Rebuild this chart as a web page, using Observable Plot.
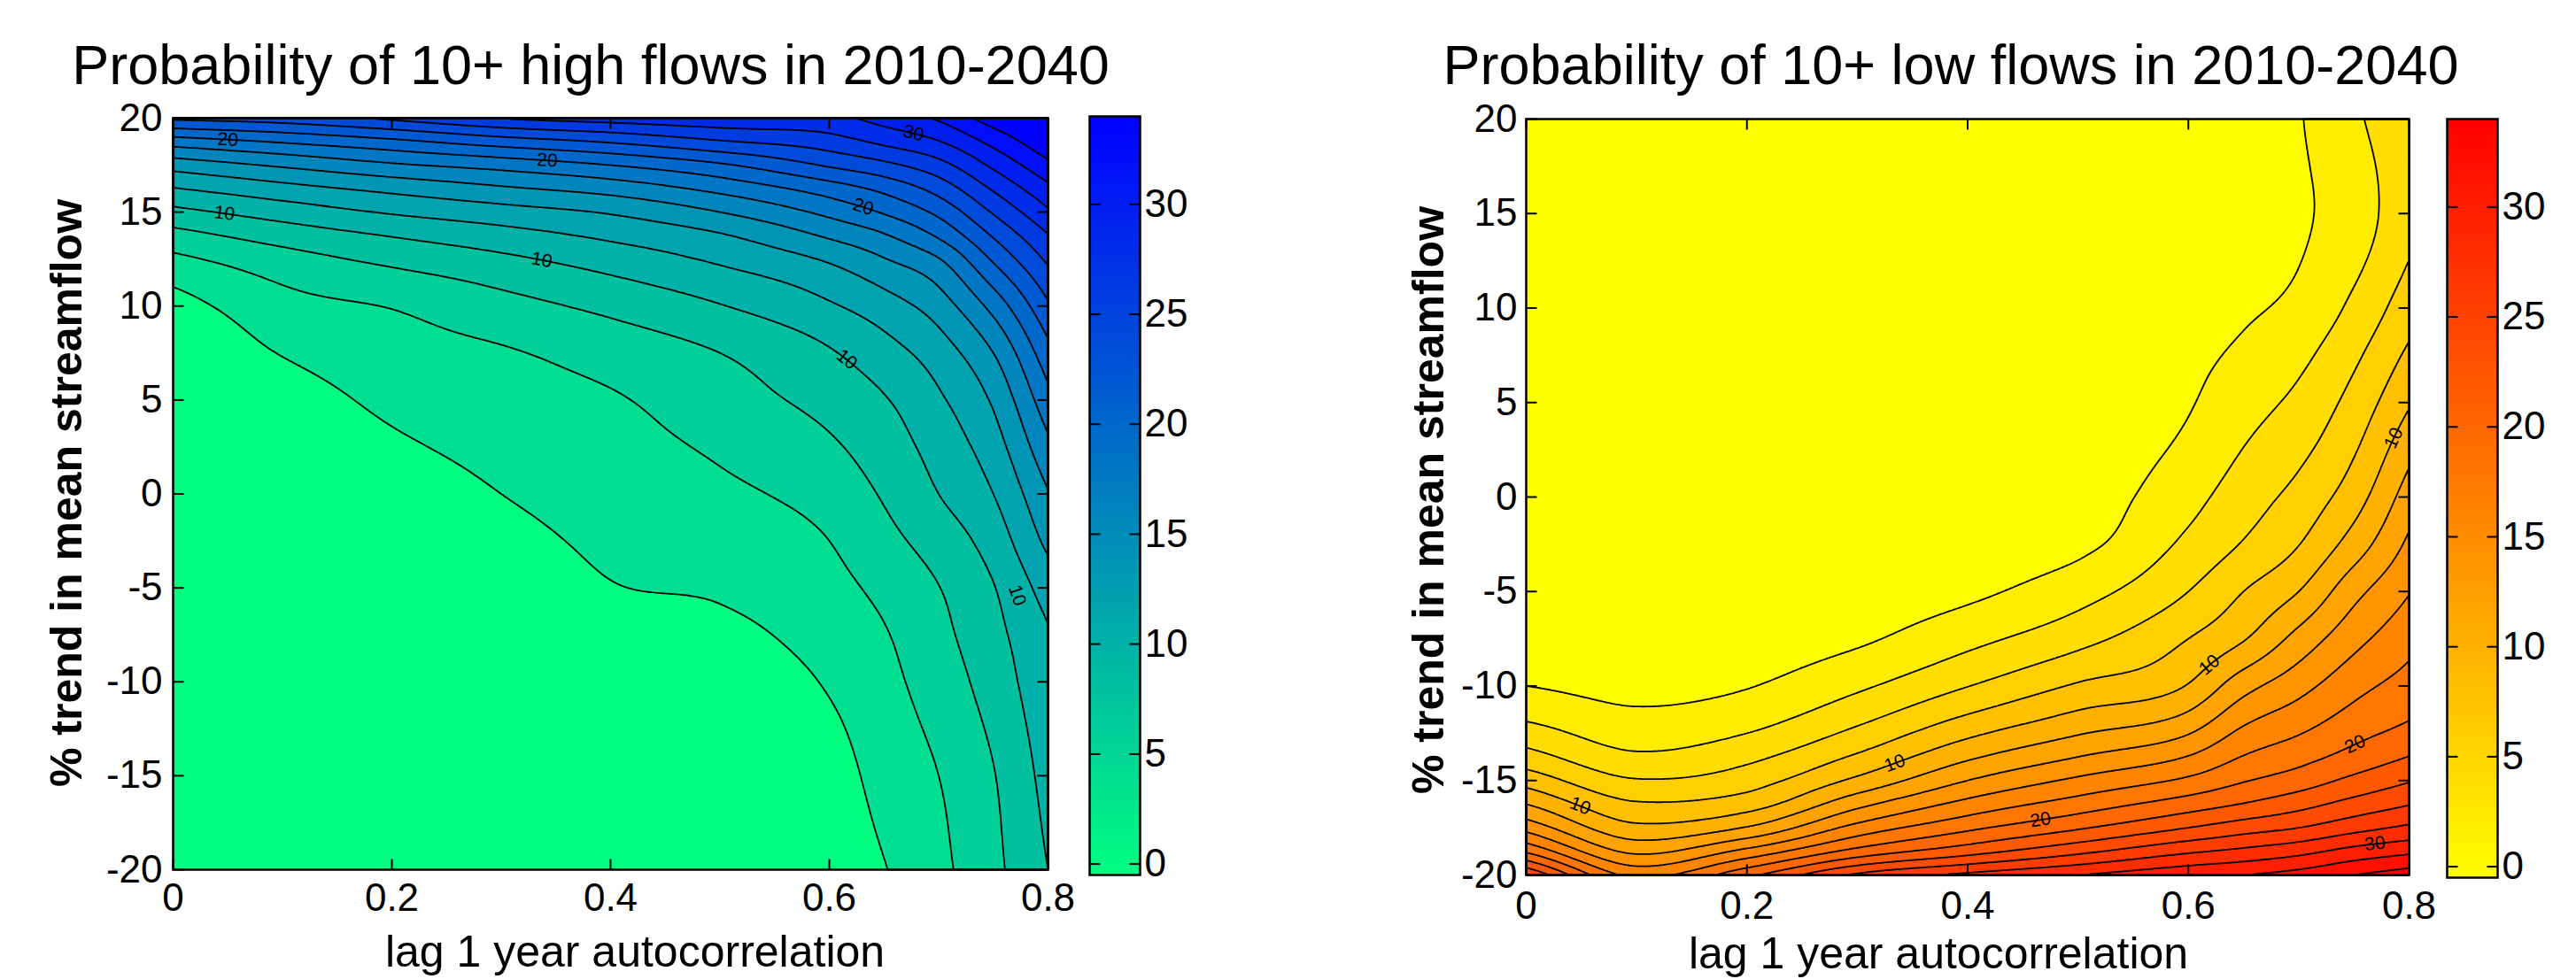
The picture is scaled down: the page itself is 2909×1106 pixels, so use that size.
<!DOCTYPE html>
<html>
<head>
<meta charset="utf-8">
<script src="https://cdn.jsdelivr.net/npm/d3@7"></script>
<script src="https://cdn.jsdelivr.net/npm/@observablehq/plot@0.6"></script>
<style>
  html, body { margin: 0; padding: 0; background: #ffffff; }
  #figure { position: relative; width: 2909px; height: 1106px; overflow: hidden; background: #ffffff; }
  #figure > .panel { position: absolute; top: 0; overflow: visible; }
  #figure svg { overflow: visible; }
</style>
</head>
<body>
<div id="figure"></div>
<script>
const FONT = '"Liberation Sans", Arial, Helvetica, sans-serif';

// ---- texts ----
const titleHigh = "Probability of 10+ high flows in 2010-2040";
const titleLow = "Probability of 10+ low flows in 2010-2040";
const xLabel = "lag 1 year autocorrelation";
const yLabel = "% trend in mean streamflow";

// ---- ticks & levels ----
const xTicks = [0, 0.2, 0.4, 0.6, 0.8];
const yTicks = [-20, -15, -10, -5, 0, 5, 10, 15, 20];
const colorbarTicks = [0, 5, 10, 15, 20, 25, 30];
const colorLimits = [-0.5, 34];
const highLevels = [4, 6, 8, 10, 12, 14, 16, 18, 20, 22, 24, 26, 28, 30, 32, 34];
const lowLevels = [2, 4, 6, 8, 10, 12, 14, 16, 18, 20, 22, 24, 26, 28, 30, 32, 34];

// ---- grid: lag-1 autocorrelation columns ----
const autocorrelation = [0, 0.1, 0.2, 0.3, 0.4, 0.5, 0.6, 0.65, 0.7, 0.75, 0.8];

// ---- high flows: probability (%) read per autocorrelation column, rows = trend ----
const highTrend = [20, 18.75, 17.5, 16.25, 15, 13.75, 12.5, 10, 7.5, 5, 2.5, 0, -2.5, -5, -7.5, -10, -15, -20];
const highAt000 = [24.4, 19.0, 14.86, 11.9, 9.45, 7.3, 5.56, 3.2, 2.0, 1.2, 0.7, 0.4, 0.2, 0.1, 0, 0, 0, 0];
const highAt010 = [25.0, 20.2, 16.3, 13.3, 10.9, 8.85, 7.2, 5.3, 4.1, 2.85, 1.8, 1.1, 0.6, 0.3, 0.15, 0.05, 0, 0];
const highAt020 = [26.4, 21.5, 17.7, 14.55, 12.2, 10.1, 8.5, 6.1, 5.25, 4.5, 3.6, 2.7, 1.9, 1.2, 0.7, 0.4, 0.1, 0];
const highAt030 = [28.1, 23.0, 18.75, 15.7, 13.2, 11.2, 9.6, 7.3, 5.8, 5.2, 4.6, 4.0, 3.3, 2.6, 1.9, 1.4, 0.7, 0.3];
const highAt040 = [28.9, 24.2, 20.0, 16.8, 14.2, 12.4, 10.9, 8.5, 6.8, 5.8, 5.3, 4.85, 4.4, 3.9, 3.1, 2.4, 1.3, 0.7];
const highAt050 = [29.5, 25.8, 21.7, 18.6, 16.0, 13.8, 12.35, 9.9, 8.0, 7.15, 6.3, 5.6, 4.9, 4.25, 3.5, 2.8, 1.8, 1.1];
const highAt060 = [29.6, 27.1, 24.25, 21.0, 18.55, 16.3, 14.3, 11.75, 9.8, 8.7, 7.7, 6.85, 6.0, 5.4, 4.8, 4.2, 3.1, 2.6];
const highAt065 = [30.8, 28.45, 25.5, 22.55, 20.2, 17.8, 15.9, 13.1, 11.2, 9.85, 9.0, 8.2, 7.4, 6.5, 5.85, 5.45, 4.7, 3.9];
const highAt070 = [32.3, 29.9, 27.3, 24.8, 22.5, 20.3, 17.9, 15.0, 13.0, 11.7, 10.8, 10.0, 8.9, 7.95, 7.45, 6.95, 6.0, 5.5];
const highAt075 = [35.0, 32.6, 30.4, 28.25, 26.2, 24.2, 22.3, 18.7, 16.0, 14.3, 13.1, 12.0, 10.9, 9.9, 9.4, 8.9, 7.9, 7.5];
const highAt080 = [37.0, 35.5, 33.5, 31.5, 29.7, 27.9, 26.4, 23.7, 21.3, 19.3, 17.5, 15.85, 14.5, 12.9, 11.8, 11.45, 10.7, 10.0];

// ---- low flows ----
const lowTrend = [20, 15, 10, 7.5, 5, 2.5, 0, -2.5, -5, -7.5, -10, -12.5, -13.75, -15, -16.25, -17.5, -18.75, -20];
const lowAt000 = [0, 0, 0, 0.03, 0.1, 0.2, 0.3, 0.5, 0.8, 1.3, 2.0, 4.86, 6.8, 9.2, 12.0, 15.3, 19.75, 26];
const lowAt010 = [0.05, 0.05, 0.05, 0.07, 0.1, 0.15, 0.2, 0.35, 0.6, 0.9, 1.45, 3.05, 4.35, 6.15, 8.25, 10.5, 13.6, 17.5];
const lowAt020 = [0.1, 0.1, 0.1, 0.12, 0.15, 0.2, 0.3, 0.45, 0.7, 1.05, 1.9, 4.0, 5.5, 7.1, 9.1, 12.15, 16.6, 21.5];
const lowAt030 = [0.2, 0.2, 0.2, 0.22, 0.25, 0.35, 0.45, 0.65, 0.95, 1.7, 3.65, 6.5, 8.3, 10.45, 13.4, 16.7, 20.7, 26.4];
const lowAt040 = [0.35, 0.35, 0.35, 0.4, 0.45, 0.55, 0.7, 1.0, 1.6, 3.4, 5.95, 9.55, 11.65, 14.0, 16.65, 19.55, 23.2, 28.5];
const lowAt050 = [0.6, 0.6, 0.7, 0.78, 0.85, 0.95, 1.1, 1.55, 3.2, 5.35, 8.25, 11.85, 14.0, 16.4, 18.9, 21.75, 25.5, 30];
const lowAt060 = [1.1, 1.05, 1.3, 1.55, 1.85, 2.45, 3.35, 4.45, 6.0, 8.0, 10.15, 13.9, 16.1, 18.4, 21.0, 24.0, 27.7, 31.5];
const lowAt065 = [1.5, 1.4, 1.75, 2.35, 3.2, 4.05, 5.05, 6.15, 8.0, 9.85, 13.25, 16.5, 18.1, 19.85, 22.1, 25.1, 28.5, 32];
const lowAt070 = [1.9, 1.75, 2.5, 3.5, 4.5, 5.5, 6.67, 7.95, 10.0, 12.7, 15.3, 17.9, 19.3, 21.0, 23.3, 26.0, 29.4, 32.8];
const lowAt075 = [3.7, 3.0, 4.45, 5.6, 6.7, 7.8, 9.1, 10.9, 13.35, 15.35, 17.35, 19.4, 20.7, 22.5, 24.7, 27.3, 30.7, 34];
const lowAt080 = [5.2, 5.4, 7.1, 8.4, 9.8, 11.4, 12.95, 14.4, 15.9, 17.35, 18.8, 20.6, 22.05, 23.85, 25.9, 28.4, 31.6, 35];

// ---- inline contour labels (x, trend, level) ----
const highLabels = [
  {x: 0.05, y: 19.3, text: "20"}, {x: 0.047, y: 15.1, text: "10"},
  {x: 0.342, y: 17.9, text: "20"}, {x: 0.337, y: 12.5, text: "10"},
  {x: 0.631, y: 15.2, text: "20"}, {x: 0.616, y: 7.5, text: "10"},
  {x: 0.677, y: 19.4, text: "30"}, {x: 0.772, y: -5.4, text: "10"}
];
const lowLabels = [
  {x: 0.049, y: -16.4, text: "10"}, {x: 0.334, y: -13.9, text: "10"},
  {x: 0.619, y: -9.4, text: "10"}, {x: 0.786, y: 3.7, text: "10"},
  {x: 0.466, y: -17.1, text: "20"}, {x: 0.751, y: -13.4, text: "20"},
  {x: 0.769, y: -18.3, text: "30"}
];

// ---- smooth C1 cubic (non-uniform, softly limited), used to render the read grid ----
function smoothCubic(xs, ys) {
  const n = xs.length, h = [], s = [], m = [];
  for (let i = 0; i < n - 1; i++) { h[i] = xs[i + 1] - xs[i]; s[i] = (ys[i + 1] - ys[i]) / h[i]; }
  m[0] = s[0]; m[n - 1] = s[n - 2];
  for (let i = 1; i < n - 1; i++) {
    const p = (s[i - 1] * h[i] + s[i] * h[i - 1]) / (h[i - 1] + h[i]);
    if (s[i - 1] * s[i] <= 0) m[i] = 0.5 * p;
    else m[i] = Math.sign(p) * Math.min(Math.abs(p), 2.5 * Math.min(Math.abs(s[i - 1]), Math.abs(s[i])));
  }
  return (x) => {
    let lo = 0, hi = n - 1;
    if (x <= xs[0]) lo = 0; else if (x >= xs[n - 1]) lo = n - 2;
    else { while (hi - lo > 1) { const mid = (lo + hi) >> 1; if (xs[mid] <= x) lo = mid; else hi = mid; } }
    const t = Math.max(0, Math.min(1, (x - xs[lo]) / h[lo]));
    const t2 = t * t, t3 = t2 * t;
    return (2 * t3 - 3 * t2 + 1) * ys[lo] + (t3 - 2 * t2 + t) * h[lo] * m[lo]
         + (-2 * t3 + 3 * t2) * ys[lo + 1] + (t3 - t2) * h[lo] * m[lo + 1];
  };
}
function makeField(xs, rowsDesc, cols) {
  const rows = rowsDesc.slice().reverse();
  const colFns = cols.map(c => smoothCubic(rows, c.slice().reverse()));
  let lastY = NaN, rowFn = null;
  return (x, y) => {
    if (y !== lastY) { lastY = y; rowFn = smoothCubic(xs, colFns.map(f => f(y))); }
    return rowFn(x);
  };
}

const highField = makeField(autocorrelation, highTrend,
  [highAt000, highAt010, highAt020, highAt030, highAt040, highAt050, highAt060, highAt065, highAt070, highAt075, highAt080]);
const lowField = makeField(autocorrelation, lowTrend,
  [lowAt000, lowAt010, lowAt020, lowAt030, lowAt040, lowAt050, lowAt060, lowAt065, lowAt070, lowAt075, lowAt080]);

// ---- tick glyphs (inward ticks like MATLAB) ----
const TL = 12;
const tickUp = {draw(c) { c.moveTo(0, 0); c.lineTo(0, -TL); }};
const tickDown = {draw(c) { c.moveTo(0, 0); c.lineTo(0, TL); }};
const tickRight = {draw(c) { c.moveTo(0, 0); c.lineTo(TL, 0); }};
const tickLeft = {draw(c) { c.moveTo(0, 0); c.lineTo(-TL, 0); }};
const tickStyle = {stroke: "black", fill: "none", strokeWidth: 2};

const fmt = d => String(d);
const FIG_H = 1106;
const panelStyle = {fontFamily: FONT, fontSize: "44px", color: "black", background: "transparent", maxWidth: "none", overflow: "visible"};

function addPanel(svg, left, width) {
  const div = document.createElement("div");
  div.className = "panel";
  div.style.left = left + "px";
  div.style.width = width + "px";
  div.style.height = FIG_H + "px";
  div.appendChild(svg);
  document.getElementById("figure").appendChild(div);
}

function contourPanel({left, width, margins, field, levels, colors, labels, xPad, yPad}) {
  const [mt, mr, mb, ml] = margins;
  const innerW = width - ml - mr, innerH = FIG_H - mt - mb;
  const pxX = innerW / 0.8, pxY = innerH / 40;
  const placed = labels.map(d => {
    const level = +d.text;
    let best = d.y, bestDist = Infinity;
    let prev = field(d.x, d.y - 3) - level;
    for (let yy = d.y - 3 + 0.02; yy <= d.y + 3; yy += 0.02) {
      const cur = field(d.x, yy) - level;
      if (prev * cur <= 0) { const dist = Math.abs(yy - d.y); if (dist < bestDist) { bestDist = dist; best = yy; } }
      prev = cur;
    }
    const e = 0.002;
    const gx = (field(Math.min(0.8, d.x + e), best) - field(Math.max(0, d.x - e), best)) / (2 * e) / pxX;
    const gy = -(field(d.x, best + 0.05) - field(d.x, best - 0.05)) / 0.1 / pxY;
    let ang = Math.atan2(-gx, gy) * 180 / Math.PI;
    if (ang > 90) ang -= 180;
    if (ang <= -90) ang += 180;
    return {x: d.x, y: best, text: d.text, angle: ang};
  });
  const svg = Plot.plot({
    width, height: FIG_H,
    marginTop: mt, marginRight: mr, marginBottom: mb, marginLeft: ml,
    style: panelStyle,
    x: {domain: [0, 0.8], ticks: xTicks, tickFormat: fmt, tickSize: 0, tickPadding: xPad, label: null},
    y: {domain: [-20, 20], ticks: yTicks, tickFormat: fmt, tickSize: 0, tickPadding: yPad, label: null},
    color: {type: "linear", domain: colorLimits, range: colors, interpolate: "rgb", clamp: true},
    marks: [
      Plot.contour({fill: field, stroke: "none", x1: 0, x2: 0.8, y1: -20, y2: 20, thresholds: [colorLimits[0], ...levels]}),
      Plot.contour({value: field, fill: "none", stroke: "black", strokeWidth: 1.8, x1: 0, x2: 0.8, y1: -20, y2: 20, thresholds: levels}),
      Plot.text(placed, {x: "x", y: "y", text: "text", rotate: "angle", fontSize: 21, fill: "black"}),
      Plot.frame({stroke: "black", strokeWidth: 2.5}),
      Plot.dot(xTicks, {x: d => d, frameAnchor: "bottom", symbol: tickUp, ...tickStyle}),
      Plot.dot(xTicks, {x: d => d, frameAnchor: "top", symbol: tickDown, ...tickStyle}),
      Plot.dot(yTicks, {y: d => d, frameAnchor: "left", symbol: tickRight, ...tickStyle}),
      Plot.dot(yTicks, {y: d => d, frameAnchor: "right", symbol: tickLeft, ...tickStyle})
    ]
  });
  addPanel(svg, left, width);
}

function colorbarPanel({left, width, margins, colors}) {
  const [mt, mr, mb, ml] = margins;
  const svg = Plot.plot({
    width, height: FIG_H,
    marginTop: mt, marginRight: mr, marginBottom: mb, marginLeft: ml,
    style: panelStyle,
    x: {domain: [0, 1], axis: null},
    y: {domain: colorLimits, ticks: colorbarTicks, tickFormat: fmt, axis: "right", tickSize: 0, tickPadding: 5, label: null},
    color: {type: "linear", domain: colorLimits, range: colors, interpolate: "rgb", clamp: true},
    marks: [
      Plot.raster({fill: (x, y) => y, x1: 0, x2: 1, y1: colorLimits[0], y2: colorLimits[1]}),
      Plot.frame({stroke: "black", strokeWidth: 2.5}),
      Plot.dot(colorbarTicks, {y: d => d, frameAnchor: "left", symbol: tickRight, ...tickStyle}),
      Plot.dot(colorbarTicks, {y: d => d, frameAnchor: "right", symbol: tickLeft, ...tickStyle})
    ]
  });
  addPanel(svg, left, width);
}

const winter = ["#00ff80", "#0000ff"];
const autumn = ["#ffff00", "#ff0000"];

contourPanel({left: 0, width: 1220, margins: [133, 37, 124, 195], field: highField, levels: highLevels,
  colors: winter, labels: highLabels, xPad: 15, yPad: 12});
colorbarPanel({left: 1225, width: 170, margins: [131, 108, 118, 5], colors: winter});
contourPanel({left: 1540, width: 1200, margins: [134, 20, 118, 183], field: lowField, levels: lowLevels,
  colors: autumn, labels: lowLabels, xPad: 18, yPad: 10});
colorbarPanel({left: 2758, width: 151, margins: [134, 89, 115, 5], colors: autumn});

// ---- titles and axis labels ----
const overlay = d3.select("#figure").append("svg")
  .attr("width", 2909).attr("height", FIG_H)
  .style("position", "absolute").style("left", "0px").style("top", "0px")
  .style("pointer-events", "none")
  .attr("font-family", FONT).attr("fill", "black");
const texts = [
  {x: 667, y: 95, size: 63, weight: "normal", text: titleHigh},
  {x: 2203, y: 95, size: 63, weight: "normal", text: titleLow},
  {x: 717, y: 1092, size: 50, weight: "normal", text: xLabel},
  {x: 2189, y: 1094, size: 50, weight: "normal", text: xLabel},
  {x: 92, y: 557, size: 50, weight: "bold", text: yLabel, rotate: true},
  {x: 1630, y: 565, size: 50, weight: "bold", text: yLabel, rotate: true}
];
for (const t of texts) {
  overlay.append("text")
    .attr("transform", `translate(${t.x},${t.y})` + (t.rotate ? " rotate(-90)" : ""))
    .attr("text-anchor", "middle")
    .attr("font-size", t.size)
    .attr("font-weight", t.weight)
    .text(t.text);
}
</script>
</body>
</html>
